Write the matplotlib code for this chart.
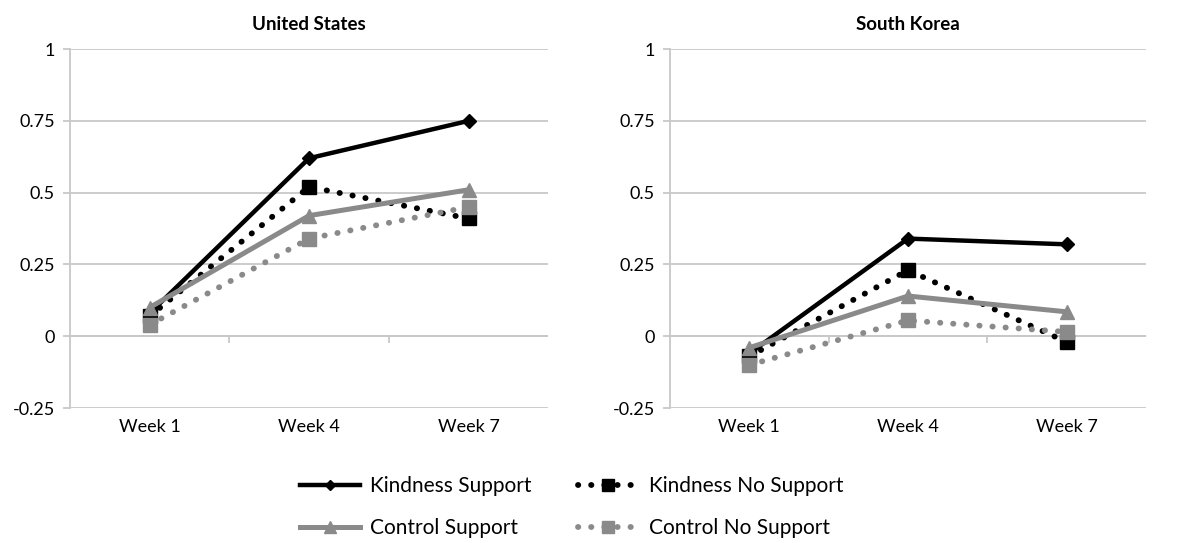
import numpy as np
import matplotlib.pyplot as plt
from matplotlib.lines import Line2D

plt.rcParams['font.family'] = ['Lato', 'DejaVu Sans']

# Data
weeks = ['Week 1', 'Week 4', 'Week 7']
panels = ['United States', 'South Korea']

us_kind_support = [0.08, 0.62, 0.75]
us_kind_nosupport = [0.07, 0.52, 0.41]
us_ctrl_support = [0.10, 0.42, 0.51]
us_ctrl_nosupport = [0.04, 0.34, 0.45]

kr_kind_support = [-0.06, 0.34, 0.32]
kr_kind_nosupport = [-0.07, 0.23, -0.02]
kr_ctrl_support = [-0.04, 0.14, 0.085]
kr_ctrl_nosupport = [-0.10, 0.055, 0.015]

series_names = ['Kindness Support', 'Kindness No Support',
                'Control Support', 'Control No Support']

DARK = '#000000'
GREY = '#8a8a8a'
GRID = '#c8c8c8'
DOTS = (0, (0.05, 2.2))

styles = [
    dict(color=DARK, ls='-', marker='D', ms=7, lw=3.2),
    dict(color=DARK, ls=DOTS, marker='s', ms=10, lw=4.2),
    dict(color=GREY, ls='-', marker='^', ms=10, lw=3.6),
    dict(color=GREY, ls=DOTS, marker='s', ms=10, lw=4.2),
]

fig = plt.figure(figsize=(11.78, 5.43), dpi=100)
ax1 = fig.add_axes([0.0594, 0.2486, 0.406, 0.661])
ax2 = fig.add_axes([0.5688, 0.2486, 0.404, 0.661])

data = [
    [us_kind_support, us_kind_nosupport, us_ctrl_support, us_ctrl_nosupport],
    [kr_kind_support, kr_kind_nosupport, kr_ctrl_support, kr_ctrl_nosupport],
]

x = np.arange(len(weeks))
for ax, title, rows in zip([ax1, ax2], panels, data):
    for vals, st in zip(rows, styles):
        ax.plot(x, vals, color=st['color'], linestyle=st['ls'], lw=st['lw'],
                marker=st['marker'], markersize=st['ms'],
                markeredgecolor=st['color'], dash_capstyle='round',
                solid_capstyle='butt', zorder=3)
    ax.set_xlim(-0.5, 2.5)
    ax.set_ylim(-0.25, 1)
    ax.set_yticks([-0.25, 0, 0.25, 0.5, 0.75, 1])
    ax.set_yticklabels(['-0.25', '0', '0.25', '0.5', '0.75', '1'])
    ax.set_xticks(x)
    ax.set_xticklabels(weeks)
    ax.grid(axis='y', color=GRID, lw=1.3)
    ax.set_axisbelow(True)
    for s in ['top', 'right', 'bottom']:
        ax.spines[s].set_visible(False)
    ax.spines['left'].set_color(GRID)
    ax.spines['left'].set_linewidth(1.3)
    ax.tick_params(axis='y', length=5, color=GRID, width=1.3, labelsize=13, pad=6)
    ax.tick_params(axis='x', length=0, labelsize=13, pad=8)
    # category axis crossing at zero with small divider ticks
    ax.axhline(0, color=GRID, lw=1.3, zorder=1)
    for b in [0.5, 1.5]:
        ax.plot([b, b], [0, -0.02], color=GRID, lw=1.3, zorder=1)
    ax.set_title(title, fontsize=13.5, fontweight='bold', pad=14)

handles = [Line2D([], [], color=st['color'], linestyle=st['ls'], lw=st['lw'],
                  marker=st['marker'], markersize=st['ms'] * 0.8,
                  dash_capstyle='round')
           for st in styles]
# matplotlib fills legends column-wise; reorder so rows read like the reference
order = [0, 2, 1, 3]
fig.legend([handles[i] for i in order], [series_names[i] for i in order],
           loc='lower center', ncol=2,
           bbox_to_anchor=(0.485, -0.025), frameon=False, fontsize=15,
           handlelength=2.9, columnspacing=2.2, labelspacing=1.05,
           handletextpad=0.5)

fig.savefig('out.png', dpi=100)
